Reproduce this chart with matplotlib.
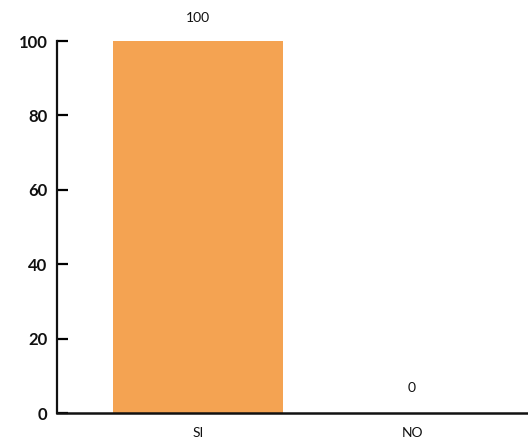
import matplotlib
matplotlib.use("Agg")
import matplotlib.pyplot as plt

categories = ["SI", "NO"]
values = [100, 0]
yticks = [0, 20, 40, 60, 80, 100]

plt.rcParams['font.family'] = ['Lato', 'DejaVu Sans']

fig = plt.figure(figsize=(5.28, 4.43), dpi=100)
ax = fig.add_axes([57/528, 30/443, 1 - 57/528, (413-41)/443])

x = list(range(len(categories)))
bars = ax.bar(x, values, width=0.795, color="#F4A352", edgecolor="none")

for xi, v in zip(x, values):
    ax.annotate(f"{v}", (xi, v), xytext=(0, 12 if v > 0 else 14), textcoords="offset points",
                ha="center", va="bottom", fontsize=10, color="#111111")

ax.set_xlim(-0.659, 1.542)
ax.set_ylim(0, 100)
ax.set_yticks(yticks)
ax.set_yticklabels([str(t) for t in yticks], fontsize=12, fontweight="bold", color="#111111")
ax.set_xticks(x)
ax.set_xticklabels(categories, fontsize=10, color="#111111")
ax.tick_params(axis="y", direction="in", length=8, width=1.6, pad=7)
ax.tick_params(axis="x", length=0, pad=10)

for s in ["top", "right"]:
    ax.spines[s].set_visible(False)
ax.spines["left"].set_linewidth(1.6)
ax.spines["bottom"].set_linewidth(1.8)
ax.spines["left"].set_color("#111111")
ax.spines["bottom"].set_color("#111111")

fig.savefig("out.png", dpi=100)
